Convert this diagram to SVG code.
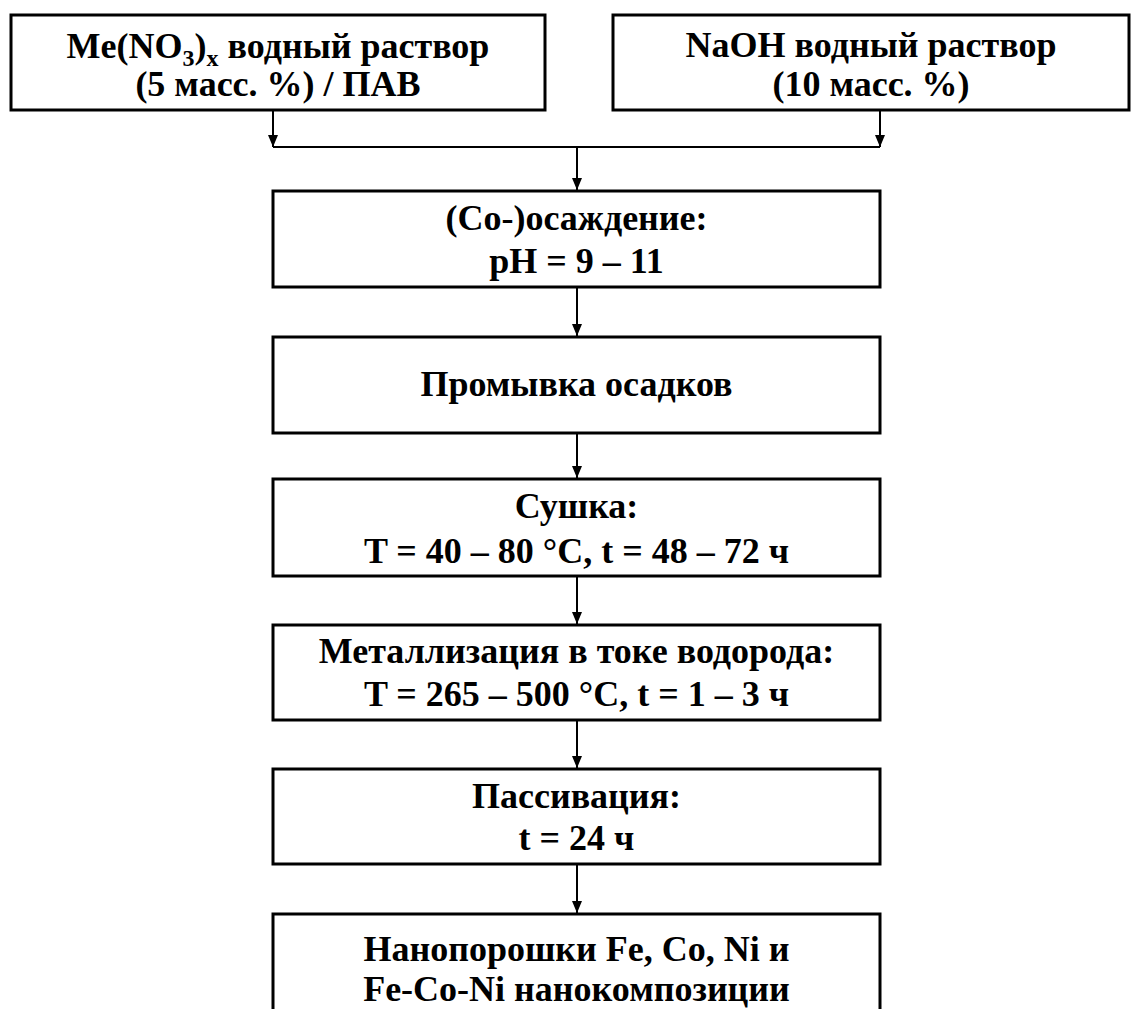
<svg xmlns="http://www.w3.org/2000/svg" width="1131" height="1009" viewBox="0 0 1131 1009">
<defs>
<style>
.box{fill:#fff;stroke:#000;stroke-width:3}
.t{font-family:"Liberation Serif","Times New Roman",serif;font-weight:bold;font-size:36px;fill:#000;text-anchor:middle}
.c{stroke:#000;stroke-width:2;fill:none}
</style>
<marker id="arr" markerWidth="12" markerHeight="10" refX="12" refY="5" orient="auto" markerUnits="userSpaceOnUse" viewBox="0 0 12 10">
<path d="M0,0 L12,5 L0,10 Z" fill="#000"/>
</marker>
</defs>
<rect width="1131" height="1009" fill="#fff"/>
<g id="connectors">
<line class="c" x1="273" y1="111" x2="273" y2="147" marker-end="url(#arr)"/>
<line class="c" x1="880" y1="111" x2="880" y2="147" marker-end="url(#arr)"/>
<line class="c" x1="273" y1="147" x2="880" y2="147"/>
<line class="c" x1="577" y1="147" x2="577" y2="190" marker-end="url(#arr)"/>
<line class="c" x1="577" y1="288" x2="577" y2="336" marker-end="url(#arr)"/>
<line class="c" x1="577" y1="434" x2="577" y2="478" marker-end="url(#arr)"/>
<line class="c" x1="577" y1="577" x2="577" y2="624" marker-end="url(#arr)"/>
<line class="c" x1="577" y1="721" x2="577" y2="768" marker-end="url(#arr)"/>
<line class="c" x1="577" y1="865" x2="577" y2="913" marker-end="url(#arr)"/>
</g>
<g id="node-meno3">
<rect class="box" x="11" y="15" width="534" height="95"/>
<text class="t" x="278" y="58">Me(NO<tspan font-size="24" baseline-shift="-8">3</tspan>)<tspan font-size="24" baseline-shift="-8">x</tspan> водный раствор</text>
<text class="t" x="278" y="96">(5 масс. %) / ПАВ</text>
</g>
<g id="node-naoh">
<rect class="box" x="613" y="15" width="516" height="95"/>
<text class="t" x="871" y="57">NaOH водный раствор</text>
<text class="t" x="871" y="96">(10 масс. %)</text>
</g>
<g id="node-precip">
<rect class="box" x="273" y="191" width="607" height="96"/>
<text class="t" x="576.5" y="230">(Co-)осаждение:</text>
<text class="t" x="576.5" y="273">pH = 9 – 11</text>
</g>
<g id="node-wash">
<rect class="box" x="273" y="337" width="607" height="96"/>
<text class="t" x="576.5" y="396">Промывка осадков</text>
</g>
<g id="node-dry">
<rect class="box" x="273" y="479" width="607" height="97"/>
<text class="t" x="576.5" y="518">Сушка:</text>
<text class="t" x="576.5" y="563">T = 40 – 80 °C, t = 48 – 72 ч</text>
</g>
<g id="node-metal">
<rect class="box" x="273" y="625" width="607" height="95"/>
<text class="t" x="576.5" y="663">Металлизация в токе водорода:</text>
<text class="t" x="576.5" y="706">T = 265 – 500 °C, t = 1 – 3 ч</text>
</g>
<g id="node-passiv">
<rect class="box" x="273" y="769" width="607" height="95"/>
<text class="t" x="576.5" y="808">Пассивация:</text>
<text class="t" x="576.5" y="850">t = 24 ч</text>
</g>
<g id="node-result">
<rect class="box" x="273" y="914" width="607" height="140"/>
<text class="t" x="576.5" y="961">Нанопорошки Fe, Co, Ni и</text>
<text class="t" x="576.5" y="1001">Fe-Co-Ni нанокомпозиции</text>
</g>
</svg>
